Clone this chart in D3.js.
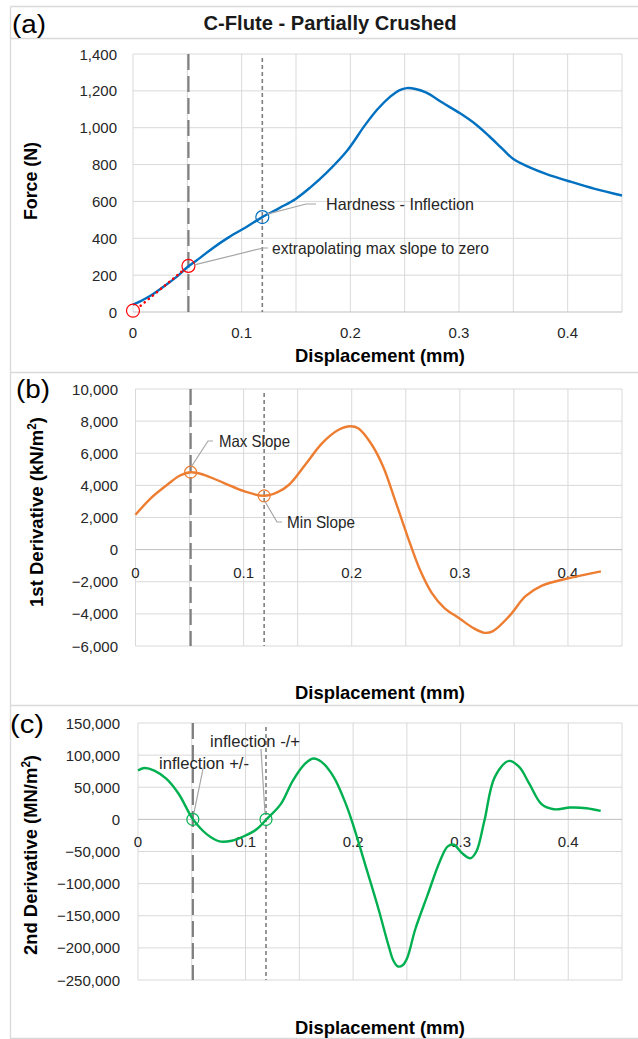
<!DOCTYPE html>
<html><head><meta charset="utf-8">
<script src="https://cdn.jsdelivr.net/npm/d3@7"></script>
<style>
html,body{margin:0;padding:0;background:#fff;}
svg{display:block;}
</style></head>
<body>
<svg id="c" width="638" height="1039"></svg>
<script>
// ---------- DATA ----------
const title = "C-Flute - Partially Crushed";
const xTickVals = [0, 0.1, 0.2, 0.3, 0.4];
const xGridVals = [0, 0.05, 0.1, 0.15, 0.2, 0.25, 0.3, 0.35, 0.4, 0.45];

// (a) Force vs displacement
const dispA  = [0, 0.008, 0.016, 0.031, 0.041, 0.051, 0.062, 0.073, 0.088, 0.104, 0.119, 0.135, 0.15, 0.163, 0.178, 0.197, 0.213, 0.225, 0.237, 0.245, 0.252, 0.26, 0.27, 0.285, 0.301, 0.315, 0.3276, 0.34, 0.35, 0.365, 0.38, 0.4026, 0.425, 0.45];
const forceA = [40, 62, 88, 150, 195, 248, 295, 345, 405, 460, 515, 565, 615, 675, 755, 875, 1010, 1100, 1170, 1203, 1215, 1210, 1190, 1135, 1078, 1020, 955, 885, 830, 785, 750, 707, 668, 632];
const yTicksA = [0, 200, 400, 600, 800, 1000, 1200, 1400];
const extrapX = [0.007, 0.046];
const extrapY = [34, 225];
const redCircX = [0, 0.051];
const redCircY = [7, 250];
const blueCircX = [0.119];
const blueCircY = [515];

// (b) 1st derivative
const dispB  = [0, 0.0143, 0.0294, 0.0407, 0.0512, 0.0633, 0.082, 0.101, 0.119, 0.131, 0.142, 0.157, 0.1725, 0.1875, 0.1988, 0.206, 0.2177, 0.229, 0.24, 0.2516, 0.263, 0.274, 0.2855, 0.3, 0.312, 0.323, 0.3307, 0.3457, 0.3608, 0.376, 0.402, 0.4305];
const slopeB = [2170, 3210, 4040, 4600, 4820, 4660, 4140, 3620, 3350, 3560, 4040, 5280, 6620, 7450, 7680, 7550, 6620, 5180, 3100, 830, -1240, -2690, -3620, -4300, -4860, -5180, -5070, -4140, -2900, -2240, -1760, -1350];
const yTicksB = [-6000, -4000, -2000, 0, 2000, 4000, 6000, 8000, 10000];
const orangeCircX = [0.051, 0.119];
const orangeCircY = [4820, 3350];

// (c) 2nd derivative
const dispC  = [0, 0.0057, 0.0152, 0.0265, 0.0379, 0.0512, 0.0644, 0.0758, 0.0872, 0.0985, 0.11, 0.1194, 0.1327, 0.144, 0.1554, 0.163, 0.1706, 0.182, 0.1933, 0.2009, 0.2123, 0.2236, 0.2331, 0.2375, 0.2418, 0.246, 0.2502, 0.2578, 0.2691, 0.2805, 0.288, 0.2937, 0.3013, 0.309, 0.3146, 0.322, 0.3317, 0.345, 0.3544, 0.3639, 0.3752, 0.3866, 0.4018, 0.4169, 0.4302];
const curvC  = [76000, 80000, 76000, 63000, 39500, 0, -23700, -34200, -33200, -26300, -15800, 0, 23700, 60500, 86800, 94700, 89500, 65800, 23700, -13200, -76300, -139500, -197400, -220000, -229000, -227000, -216000, -171000, -118400, -65800, -42100, -39500, -52600, -60500, -50000, -2600, 65800, 91000, 81600, 55300, 23700, 15800, 18400, 17400, 13200];
const yTicksC = [-250000, -200000, -150000, -100000, -50000, 0, 50000, 100000, 150000];
const greenCircX = [0.051, 0.119];
const greenCircY = [0, 0];

// vertical reference lines (displacement)
const maxSlopeX = 0.051;
const inflectX = 0.119;

// ---------- DRAW ----------
const svg = d3.select("#c");
const FONT = "'Liberation Sans', Arial, sans-serif";
const fmt = d3.format(",");
const gridC = "#d9d9d9", borderC = "#d9d9d9";

// text helper with fitted width
function fitText(g, x, y, t, size, len, opts={}){
  const el = g.append("text").attr("x",x).attr("y",y)
    .attr("font-family",FONT).attr("font-size",size).attr("fill",opts.fill||"#000")
    .attr("font-weight",opts.bold?"bold":"normal")
    .attr("text-anchor",opts.anchor||"start")
    .attr("textLength",len).attr("lengthAdjust","spacingAndGlyphs");
  if(opts.transform) el.attr("transform",opts.transform);
  el.text(t);
  return el;
}

// panel borders
svg.append("path").attr("d","M10.5,38.5H638M10.5,6.5H638M10.5,6.5V1038.5H638M10.5,372.5H638M10.5,705.5H638")
  .attr("fill","none").attr("stroke",borderC).attr("stroke-width",1.3);

fitText(svg, 330, 30, title, 20, 253, {bold:true, anchor:"middle", fill:"#1a1a1a"});

const panels = [
  {lab:"(a)", labX:12, labY:33, x0:133, x1:622, yTop:54, yBot:312, dom:[0,1400], ticks:yTicksA, tickRight:117,
   xLabY:338, xLabAtZero:false, xTitleY:362, yTitle:["Force (N)"], yTitleLen:78, yTitleX:37, yTitleC:181, vTop:54},
  {lab:"(b)", labX:16, labY:398, x0:135.5, x1:622, yTop:389, yBot:646, dom:[-6000,10000], ticks:yTicksB, tickRight:118,
   xLabY:577, xLabAtZero:true, xTitleY:699, yTitle:["1st Derivative (kN/m","2",")"], yTitleLen:190, yTitleX:43, yTitleC:512, vTop:389},
  {lab:"(c)", labX:10, labY:733, x0:138, x1:622, yTop:723, yBot:980, dom:[-250000,150000], ticks:yTicksC, tickRight:120,
   xLabY:848, xLabAtZero:true, xTitleY:1034, yTitle:["2nd Derivative (MN/m","2",")"], yTitleLen:200, yTitleX:37, yTitleC:855, vTop:723}
];

panels.forEach(p=>{
  p.xs = d3.scaleLinear().domain([0,0.45]).range([p.x0,p.x1]);
  p.ys = d3.scaleLinear().domain(p.dom).range([p.yBot,p.yTop]);
  const g = svg.append("g");
  p.g = g;
  // gridlines
  g.selectAll(".vg").data(xGridVals).join("line")
    .attr("x1",d=>p.xs(d)).attr("x2",d=>p.xs(d)).attr("y1",p.yTop).attr("y2",p.yBot)
    .attr("stroke",gridC).attr("stroke-width",1);
  g.selectAll(".hg").data(p.ticks).join("line")
    .attr("x1",p.x0).attr("x2",p.x1).attr("y1",d=>p.ys(d)).attr("y2",d=>p.ys(d))
    .attr("stroke",d=>d===0?"#bfbfbf":gridC).attr("stroke-width",1);
  // y tick labels
  g.selectAll(".yl").data(p.ticks).join("text")
    .attr("x",p.tickRight).attr("y",d=>p.ys(d)+5.5).attr("text-anchor","end")
    .attr("font-family",FONT).attr("font-size",15).attr("fill","#262626").text(d=>fmt(d));
  // x tick labels
  const xlY = p.xLabAtZero ? p.ys(0)+28 : p.xLabY;
  g.selectAll(".xl").data(xTickVals).join("text")
    .attr("x",d=>p.xs(d)).attr("y",xlY).attr("text-anchor","middle")
    .attr("font-family",FONT).attr("font-size",15).attr("fill","#262626").text(d=>d===0?"0":d);
  // x title
  fitText(g, 380, p.xTitleY, "Displacement (mm)", 19, 170, {bold:true, anchor:"middle"});
  // y title
  const yt = g.append("text").attr("transform",`translate(${p.yTitleX},${p.yTitleC}) rotate(-90)`).attr("text-anchor","middle")
    .attr("font-family",FONT).attr("font-weight","bold").attr("font-size",19).attr("fill","#000")
    .attr("textLength",p.yTitleLen).attr("lengthAdjust","spacingAndGlyphs");
  yt.append("tspan").text(p.yTitle[0]);
  if(p.yTitle.length>1){
    yt.append("tspan").attr("baseline-shift","super").attr("font-size",12).text(p.yTitle[1]);
    yt.append("tspan").text(p.yTitle[2]);
  }
  // panel label
  fitText(svg, p.labX, p.labY, p.lab, 26, 34, {});
  // reference dashed lines
  g.append("line").attr("x1",p.xs(maxSlopeX)).attr("x2",p.xs(maxSlopeX)).attr("y1",p.vTop).attr("y2",p.yBot)
    .attr("stroke","#7f7f7f").attr("stroke-width",2.2).attr("stroke-dasharray","16,6");
  g.append("line").attr("x1",p.xs(inflectX)).attr("x2",p.xs(inflectX)).attr("y1",p.vTop+4).attr("y2",p.yBot)
    .attr("stroke","#7f7f7f").attr("stroke-width",1.6).attr("stroke-dasharray","4,3");
});

const [A,B,C] = panels;
const curve = d3.curveCatmullRom.alpha(0.5);
const lineGen = (p)=>d3.line().x(d=>p.xs(d[0])).y(d=>p.ys(d[1])).curve(curve);

// (a)
A.g.append("path").datum(dispA.map((d,i)=>[d,forceA[i]])).attr("d",lineGen(A))
  .attr("fill","none").attr("stroke","#0070C0").attr("stroke-width",2.4);
A.g.append("line").attr("x1",A.xs(extrapX[0])).attr("y1",A.ys(extrapY[0])).attr("x2",A.xs(extrapX[1])).attr("y2",A.ys(extrapY[1]))
  .attr("stroke","#ff0000").attr("stroke-width",2.6).attr("stroke-linecap","round").attr("stroke-dasharray","0.1,5.2");
A.g.selectAll(".rc").data(redCircX).join("circle").attr("cx",d=>A.xs(d)).attr("cy",(d,i)=>A.ys(redCircY[i])).attr("r",6.5)
  .attr("fill","none").attr("stroke","#ff0000").attr("stroke-width",1.2);
A.g.selectAll(".bc").data(blueCircX).join("circle").attr("cx",d=>A.xs(d)).attr("cy",(d,i)=>A.ys(blueCircY[i])).attr("r",6.5)
  .attr("fill","none").attr("stroke","#0070C0").attr("stroke-width",1.2);
// annotations
const leader = (g, pts)=> g.append("polyline").attr("points",pts.map(q=>q.join(",")).join(" "))
  .attr("fill","none").attr("stroke","#a6a6a6").attr("stroke-width",1.2);
const note = (g,x,y,t,len)=> fitText(g, x, y, t, 16.5, len, {fill:"#262626"});
{
  const cx = A.xs(blueCircX[0]), cy = A.ys(blueCircY[0]);
  leader(A.g, [[cx+5,cy-3],[306,204],[316,204]]);
  note(A.g, 326, 210, "Hardness - Inflection", 148);
  const rx = A.xs(redCircX[1]), ry = A.ys(redCircY[1]);
  leader(A.g, [[rx+6,ry-1],[263,248],[268,248]]);
  note(A.g, 272, 254, "extrapolating max slope to zero", 217);
}

// (b)
B.g.append("path").datum(dispB.map((d,i)=>[d,slopeB[i]])).attr("d",lineGen(B))
  .attr("fill","none").attr("stroke","#ED7D31").attr("stroke-width",2.4);
B.g.selectAll(".oc").data(orangeCircX).join("circle").attr("cx",d=>B.xs(d)).attr("cy",(d,i)=>B.ys(orangeCircY[i])).attr("r",6)
  .attr("fill","none").attr("stroke","#ED7D31").attr("stroke-width",1.2);
{
  const x1 = B.xs(orangeCircX[0]), y1 = B.ys(orangeCircY[0]);
  leader(B.g, [[x1+1,y1-6],[208,441],[213,441]]);
  note(B.g, 219, 447, "Max Slope", 71);
  const x2 = B.xs(orangeCircX[1]), y2 = B.ys(orangeCircY[1]);
  leader(B.g, [[x2+1,y2+6],[277,522],[282,522]]);
  note(B.g, 287, 528, "Min Slope", 68);
}

// (c)
C.g.append("path").datum(dispC.map((d,i)=>[d,curvC[i]])).attr("d",lineGen(C))
  .attr("fill","none").attr("stroke","#00B050").attr("stroke-width",2.4);
C.g.selectAll(".gc").data(greenCircX).join("circle").attr("cx",d=>C.xs(d)).attr("cy",(d,i)=>C.ys(greenCircY[i])).attr("r",6)
  .attr("fill","none").attr("stroke","#00B050").attr("stroke-width",1.2);
{
  const x1 = C.xs(greenCircX[0]), y1 = C.ys(greenCircY[0]);
  leader(C.g, [[x1+1,y1-6],[203,769]]);
  note(C.g, 159, 769, "inflection +/-", 90);
  const x2 = C.xs(greenCircX[1]), y2 = C.ys(greenCircY[1]);
  leader(C.g, [[x2-1,y2-6],[261,749]]);
  note(C.g, 210, 747, "inflection -/+", 90);
}
</script>
</body></html>
